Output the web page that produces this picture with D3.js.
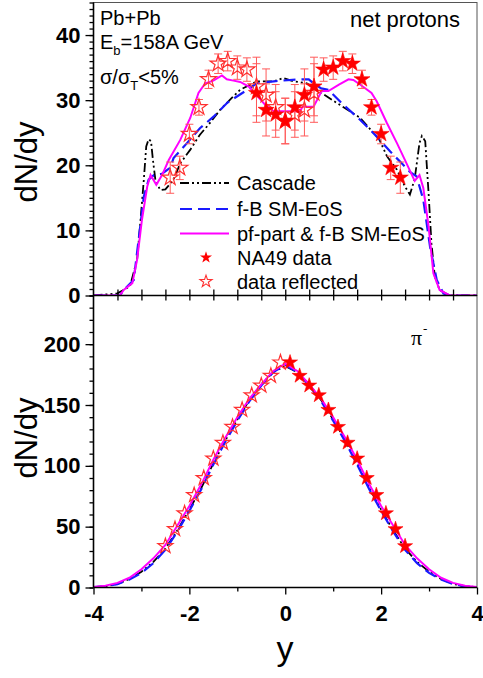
<!DOCTYPE html>
<html>
<head>
<meta charset="utf-8">
<script src="https://cdnjs.cloudflare.com/ajax/libs/d3/7.8.5/d3.min.js"></script>
<style>
body { margin: 0; background: white; }
svg { display: block; font-family: "Liberation Sans", Arial, sans-serif; }
.tick text { font-family: "Liberation Sans", Arial, sans-serif; font-weight: bold; font-size: 22px; }
.domain { display: none; }
</style>
</head>
<body>
<svg width="483" height="678"></svg>
<script>
// ---- net protons (top panel) ----
var cascadeY = [-4, -3.51, -3.24, -3.09, -3.03, -2.95, -2.90, -2.85, -2.80, -2.76, -2.71, -2.61, -2.50, -2.33, -2.19, -1.98, -1.78, -1.57, -1.36, -1.15, -1.01, -0.94, -0.59, -0.24, -0.04, 0.17, 0.45, 0.66, 1.07, 1.56, 1.96, 2.12, 2.33, 2.5, 2.6, 2.7, 2.80, 2.85, 2.92, 2.99, 3.05, 3.12, 3.22, 3.43, 4];
var cascadeN = [0, 0.3, 1.4, 5.5, 10.6, 17.8, 22.9, 24.0, 23.7, 20.8, 17.8, 16.2, 16.3, 17.8, 20.3, 22.4, 24.7, 26.5, 28.5, 30.1, 31.1, 31.6, 32.9, 32.9, 33.4, 32.9, 32.6, 31.6, 29.6, 27.3, 24.0, 21.4, 19.3, 16.7, 15.5, 17.9, 23.4, 24.5, 23.7, 15.7, 8.0, 2.9, 0.85, 0, 0];

var fbY = [-4, -3.45, -3.37, -3.16, -3.06, -2.95, -2.85, -2.74, -2.57, -2.40, -2.33, -2.05, -1.78, -1.49, -1.21, -1.0, -0.83, -0.59, -0.24, 0.28, 0.49, 0.59, 0.75, 0.90, 1.21, 1.56, 1.91, 2.19, 2.43, 2.6, 2.74, 2.88, 3.02, 3.16, 3.30, 3.45, 4];
var fbN = [0, 0, 0.85, 2.4, 8.5, 15.2, 17.8, 18.5, 18.7, 19.6, 21.1, 23.4, 25.7, 27.5, 29.6, 30.6, 31.4, 32.6, 32.9, 33.2, 33.2, 32.6, 31.8, 31.6, 29.3, 27.0, 24.4, 22.1, 20.3, 19.0, 18.3, 14.7, 7.5, 2.4, 0.3, 0, 0];

var pfY = [-4, -3.45, -3.37, -3.19, -3.09, -2.99, -2.88, -2.81, -2.69, -2.57, -2.43, -2.19, -1.98, -1.81, -1.67, -1.5, -1.32, -1.22, -1.08, -0.94, -0.76, -0.59, -0.42, -0.24, 0.0, 0.31, 0.36, 0.59, 0.76, 0.9, 1.12, 1.32, 1.42, 1.56, 1.8, 1.91, 2.12, 2.33, 2.53, 2.70, 2.80, 2.88, 2.99, 3.09, 3.22, 3.43, 4];
var pfN = [0, 0, 0.85, 1.9, 5.5, 11.6, 16.7, 18.5, 17.0, 18.5, 20.8, 23.9, 27.3, 31.1, 32.6, 33.0, 33.8, 33.2, 33.0, 32.8, 32.1, 30.7, 29.3, 28.3, 28.3, 28.3, 29.0, 29.0, 31.4, 31.4, 32.4, 33.2, 33.1, 32.4, 31.1, 29.8, 26.5, 23.4, 20.3, 17.6, 18.5, 16.5, 10.6, 3.4, 0.85, 0, 0];

var na49Y = [-0.6, -0.4, -0.2, 0, 0.2, 0.4, 0.6, 0.8, 1.0, 1.2, 1.4, 1.6, 1.8, 2.0, 2.2, 2.4];
var na49N = [31.1, 28.5, 27.8, 26.8, 28.9, 30.8, 32.1, 34.7, 35.0, 36.0, 35.6, 33.2, 28.9, 24.8, 19.6, 18.1];
var na49Err = [4.5, 4.0, 3.5, 3.5, 3.5, 4.0, 4.5, 1.8, 1.8, 1.5, 1.5, 1.4, 1.2, 1.5, 1.8, 2.4];

var reflY = [-2.4, -2.2, -2.0, -1.8, -1.6, -1.4, -1.2, -1.0, -0.8, -0.6, -0.4, -0.2, 0, 0.2, 0.4, 0.6];
var reflN = [18.1, 19.6, 24.8, 28.9, 33.2, 35.6, 36.0, 35.0, 34.7, 32.1, 30.8, 28.9, 26.8, 27.8, 28.5, 31.1];
var reflErr = [2.4, 1.8, 1.5, 1.2, 1.4, 1.5, 1.5, 1.8, 1.8, 4.5, 4.0, 3.5, 3.5, 3.5, 4.0, 4.5];

// ---- pi- (bottom panel) ----
var piGrid = [-4, -3.75, -3.5, -3.25, -3, -2.75, -2.5, -2.25, -2, -1.75, -1.5, -1.25, -1, -0.75, -0.5, -0.25, 0, 0.25, 0.5, 0.75, 1, 1.25, 1.5, 1.75, 2, 2.25, 2.5, 2.75, 3, 3.25, 3.5, 3.75, 4];
var piCascade = [0.3, 1, 3, 7, 13, 21, 32, 47, 64, 82, 102, 121, 138, 154, 167, 177, 182, 177, 167, 154, 138, 121, 102, 82, 64, 47, 32, 21, 13, 7, 3, 1, 0.3];
var piFb = [0.3, 1, 2.8, 6.5, 12, 20, 31, 46, 63, 81, 101, 120, 137, 153, 166, 177, 183, 177, 166, 153, 137, 120, 101, 81, 63, 46, 31, 20, 12, 6.5, 2.8, 1, 0.3];
var piPf = [0.5, 1.5, 3.8, 8, 15, 24, 35, 51, 67, 85, 105, 123, 140, 155, 167, 178, 184, 178, 167, 155, 140, 123, 105, 85, 67, 51, 35, 24, 15, 8, 3.8, 1.5, 0.5];

var piDataY = [0.1, 0.3, 0.5, 0.7, 0.9, 1.1, 1.3, 1.5, 1.7, 1.9, 2.1, 2.3, 2.5];
var piDataN = [185, 174, 166, 158, 146, 132, 119, 106, 90, 76, 61, 48, 34];
var piReflY = [-2.5, -2.3, -2.1, -1.9, -1.7, -1.5, -1.3, -1.1, -0.9, -0.7, -0.5, -0.3, -0.1];
var piReflN = [34, 48, 61, 76, 90, 106, 119, 132, 146, 158, 166, 174, 185];

var topTicks = [0, 10, 20, 30, 40];
var botTicks = [0, 50, 100, 150, 200];
var xTicks = [-4, -2, 0, 2, 4];

var legendLabels = ["Cascade", "f-B SM-EoS", "pf-part & f-B SM-EoS", "NA49 data", "data reflected"];

var svg = d3.select("svg");

var x = d3.scaleLinear().domain([-4, 4]).range([93.5, 477]);
var yTop = d3.scaleLinear().domain([0, 45]).range([295.5, 2.5]);
var yBot = d3.scaleLinear().domain([0, 240]).range([587.5, 295.5]);

var defs = svg.append("defs");
defs.append("clipPath").attr("id", "clipTop").append("rect")
  .attr("x", 93.5).attr("y", 2.5).attr("width", 383.5).attr("height", 293);
defs.append("clipPath").attr("id", "clipBot").append("rect")
  .attr("x", 93.5).attr("y", 295.5).attr("width", 383.5).attr("height", 292);

var styles = {
  cascade: {color: "#000", dash: "9,3,2,3,2,3", width: 1.8},
  fb: {color: "#1a1aff", dash: "12,6", width: 2.2},
  pf: {color: "#ff00ff", dash: null, width: 2}
};

function drawCurve(g, ys, ns, yScale, st) {
  var line = d3.line()
    .x(function(d) { return x(d[0]); })
    .y(function(d) { return yScale(d[1]); });
  g.append("path")
    .datum(d3.zip(ys, ns))
    .attr("d", line)
    .attr("fill", "none")
    .attr("stroke", st.color)
    .attr("stroke-width", st.width)
    .attr("stroke-dasharray", st.dash);
}

function drawStars(g, ys, ns, yScale, size, filled) {
  var sym = d3.symbol().type(d3.symbolStar).size(size);
  g.selectAll(null)
    .data(d3.zip(ys, ns))
    .enter().append("path")
    .attr("d", sym)
    .attr("transform", function(d) { return "translate(" + x(d[0]) + "," + yScale(d[1]) + ")"; })
    .attr("fill", filled ? "#ff0000" : "none")
    .attr("stroke", filled ? "#ff0000" : "#ff3030")
    .attr("stroke-width", filled ? 0.6 : 1.2);
}

function drawErrors(g, ys, ns, es) {
  var data = d3.zip(ys, ns, es);
  var eb = g.selectAll(null).data(data).enter().append("g")
    .attr("stroke", "#ff5a5a").attr("stroke-width", 1);
  eb.append("line")
    .attr("x1", function(d) { return x(d[0]); })
    .attr("x2", function(d) { return x(d[0]); })
    .attr("y1", function(d) { return yTop(d[1] - d[2]); })
    .attr("y2", function(d) { return yTop(d[1] + d[2]); });
  [-1, 1].forEach(function(s) {
    eb.append("line")
      .attr("x1", function(d) { return x(d[0]) - 4; })
      .attr("x2", function(d) { return x(d[0]) + 4; })
      .attr("y1", function(d) { return yTop(d[1] + s * d[2]); })
      .attr("y2", function(d) { return yTop(d[1] + s * d[2]); });
  });
}

// ---- top panel ----
var gTop = svg.append("g").attr("clip-path", "url(#clipTop)");
drawCurve(gTop, cascadeY, cascadeN, yTop, styles.cascade);
drawCurve(gTop, fbY, fbN, yTop, styles.fb);
drawCurve(gTop, pfY, pfN, yTop, styles.pf);
drawErrors(gTop, reflY, reflN, reflErr);
drawErrors(gTop, na49Y, na49N, na49Err);
drawStars(gTop, reflY, reflN, yTop, 80, false);
drawStars(gTop, na49Y, na49N, yTop, 80, true);

// ---- bottom panel ----
var gBot = svg.append("g").attr("clip-path", "url(#clipBot)");
drawCurve(gBot, piGrid, piCascade, yBot, styles.cascade);
drawCurve(gBot, piGrid, piFb, yBot, styles.fb);
drawCurve(gBot, piGrid, piPf, yBot, styles.pf);
drawStars(gBot, piReflY, piReflN, yBot, 70, false);
drawStars(gBot, piDataY, piDataN, yBot, 70, true);

// ---- frames ----
svg.append("rect").attr("x", 93.5).attr("y", 2.5).attr("width", 383.5).attr("height", 293)
  .attr("fill", "none").attr("stroke", "#555").attr("stroke-width", 1);
svg.append("rect").attr("x", 93.5).attr("y", 295.5).attr("width", 383.5).attr("height", 292)
  .attr("fill", "none").attr("stroke", "#555").attr("stroke-width", 1);
svg.append("line").attr("x1", 93.5).attr("x2", 93.5).attr("y1", 2.5).attr("y2", 587.5)
  .attr("stroke", "#000").attr("stroke-width", 1.6);
svg.append("line").attr("x1", 93.5).attr("x2", 477).attr("y1", 295.5).attr("y2", 295.5)
  .attr("stroke", "#000").attr("stroke-width", 1.6);
svg.append("line").attr("x1", 93.5).attr("x2", 477).attr("y1", 587.5).attr("y2", 587.5)
  .attr("stroke", "#000").attr("stroke-width", 1.6);

// ---- axes ----
function styleAxis(g) {
  g.selectAll(".tick line").attr("stroke", "#000").attr("stroke-width", 1.3);
  g.selectAll(".tick text").attr("fill", "#000");
}
var plain = function(d) { return String(d); };

svg.append("g").attr("transform", "translate(93.5,0)")
  .call(d3.axisLeft(yTop).tickValues(d3.range(0, 46, 1)).tickSize(4).tickFormat("").tickSizeOuter(0))
  .call(styleAxis);
svg.append("g").attr("transform", "translate(93.5,0)")
  .call(d3.axisLeft(yTop).tickValues(topTicks).tickSize(8).tickPadding(5).tickFormat(plain).tickSizeOuter(0))
  .call(styleAxis);

svg.append("g").attr("transform", "translate(93.5,0)")
  .call(d3.axisLeft(yBot).tickValues(d3.range(0, 241, 10)).tickSize(4).tickFormat("").tickSizeOuter(0))
  .call(styleAxis);
svg.append("g").attr("transform", "translate(93.5,0)")
  .call(d3.axisLeft(yBot).tickValues(botTicks).tickSize(8).tickPadding(5).tickFormat(plain).tickSizeOuter(0))
  .call(styleAxis);

// shared axis between panels
svg.append("g").attr("transform", "translate(0,295.5)")
  .call(d3.axisTop(x).tickValues(d3.range(-3.5, 4, 0.5)).tickSize(6).tickFormat("").tickSizeOuter(0))
  .call(styleAxis);
svg.append("g").attr("transform", "translate(0,295.5)")
  .call(d3.axisBottom(x).tickValues(d3.range(-3.5, 4, 0.5)).tickSize(5).tickFormat("").tickSizeOuter(0))
  .call(styleAxis);

// bottom axis
svg.append("g").attr("transform", "translate(0,587.5)")
  .call(d3.axisBottom(x).tickValues(d3.range(-3, 4, 2)).tickSize(4).tickFormat("").tickSizeOuter(0))
  .call(styleAxis);
svg.append("g").attr("transform", "translate(0,587.5)")
  .call(d3.axisBottom(x).tickValues(xTicks).tickSize(7).tickPadding(11).tickFormat(plain).tickSizeOuter(0))
  .call(styleAxis);

// ---- axis titles ----
svg.append("text").attr("text-anchor", "middle")
  .attr("transform", "translate(37,162)rotate(-90)")
  .style("font-size", "31px").text("dN/dy");
svg.append("text").attr("text-anchor", "middle")
  .attr("transform", "translate(37,438)rotate(-90)")
  .style("font-size", "31px").text("dN/dy");
svg.append("text").attr("text-anchor", "middle")
  .attr("x", 285).attr("y", 660)
  .style("font-size", "34px").text("y");

// ---- annotations ----
svg.append("text").attr("x", 100).attr("y", 25).style("font-size", "20px").text("Pb+Pb");
var eb = svg.append("text").attr("x", 100).attr("y", 49).style("font-size", "20px");
eb.append("tspan").text("E");
eb.append("tspan").attr("dy", 6).style("font-size", "13px").text("b");
eb.append("tspan").attr("dy", -6).text("=158A GeV");
var sg = svg.append("text").attr("x", 100).attr("y", 84).style("font-size", "20px");
sg.append("tspan").text("σ/σ");
sg.append("tspan").attr("dy", 6).style("font-size", "13px").text("T");
sg.append("tspan").attr("dy", -6).text("<5%");

svg.append("text").attr("x", 460).attr("y", 27).attr("text-anchor", "end")
  .style("font-size", "22px").text("net protons");

var pi = svg.append("text").attr("x", 411).attr("y", 345)
  .style("font-family", "'Liberation Serif', 'Times New Roman', serif").style("font-size", "22px");
pi.append("tspan").text("π");
pi.append("tspan").attr("dy", -12).attr("dx", 1).style("font-size", "13px").text("-");

// ---- legend ----
var legRows = [183, 209, 233.5, 257.5, 281.5];
var lg = svg.append("g");
[styles.cascade, styles.fb, styles.pf].forEach(function(st, i) {
  lg.append("line").attr("x1", 180).attr("x2", 229)
    .attr("y1", legRows[i]).attr("y2", legRows[i])
    .attr("stroke", st.color).attr("stroke-width", st.width)
    .attr("stroke-dasharray", st.dash);
});
lg.append("path").attr("d", d3.symbol().type(d3.symbolStar).size(45))
  .attr("transform", "translate(206," + legRows[3] + ")").attr("fill", "#ff0000");
lg.append("path").attr("d", d3.symbol().type(d3.symbolStar).size(45))
  .attr("transform", "translate(206," + legRows[4] + ")").attr("fill", "none")
  .attr("stroke", "#ff3030").attr("stroke-width", 1.1);
lg.selectAll("text").data(legendLabels).enter().append("text")
  .attr("x", 237).attr("y", function(d, i) { return legRows[i] + 7; })
  .style("font-size", "20px").text(function(d) { return d; });
</script>
</body>
</html>
